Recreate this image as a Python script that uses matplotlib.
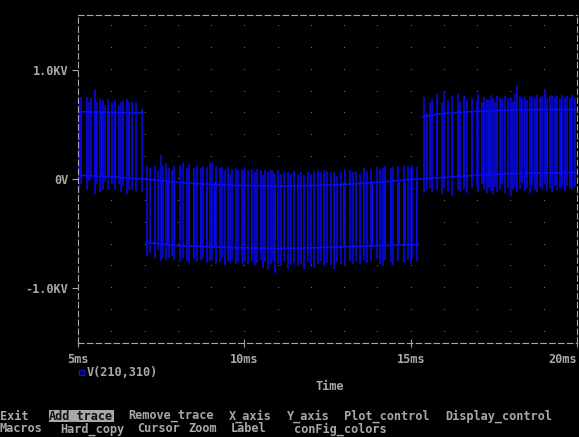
import numpy as np
import matplotlib
matplotlib.use("Agg")
import matplotlib.pyplot as plt
from matplotlib.patches import Rectangle

# V(210,310) in kV, time in ms

# thin switching edges: time, lowest and highest point of each edge
pos1_t = [5.04, 5.10, 5.26, 5.32, 5.39, 5.51, 5.58, 5.66, 5.75, 5.81, 5.90,
          6.01, 6.11, 6.24, 6.29, 6.36, 6.47, 6.53, 6.63, 6.74, 6.91]
pos1_lo = [-0.12, -0.05, -0.10, -0.02, 0.0, -0.14, -0.05, -0.12, -0.10, -0.03, -0.10,
           -0.05, -0.10, -0.05, -0.12, -0.06, -0.14, -0.10, -0.10, -0.11, -0.12]
pos1_hi = [0.72, 0.75, 0.75, 0.70, 0.74, 0.82, 0.70, 0.73, 0.72, 0.68, 0.73,
           0.70, 0.72, 0.68, 0.70, 0.72, 0.73, 0.70, 0.70, 0.70, 0.64]

neg_t = [7.06, 7.16, 7.31, 7.40, 7.49, 7.55, 7.64, 7.74, 7.84, 7.90,
         8.07, 8.15, 8.27, 8.34, 8.49, 8.57, 8.69, 8.77, 8.89, 8.97,
         9.02, 9.15, 9.27, 9.34, 9.42, 9.52, 9.57, 9.62, 9.74, 9.82,
         9.92, 9.97, 10.02, 10.12, 10.22, 10.32, 10.37, 10.50, 10.57, 10.62,
         10.72, 10.80, 10.87, 10.92, 11.02, 11.10, 11.20, 11.30, 11.40, 11.50,
         11.60, 11.70, 11.80, 11.90, 12.00, 12.10, 12.20, 12.30, 12.40, 12.47,
         12.60, 12.70, 12.80, 12.90, 13.02, 13.17, 13.27, 13.37, 13.47, 13.60,
         13.70, 13.82, 13.98, 14.08, 14.18, 14.23, 14.40, 14.48, 14.63, 14.81,
         14.93, 15.01, 15.05, 15.20]
neg_lo = [-0.70, -0.68, -0.72, -0.65, -0.75, -0.72, -0.74, -0.72, -0.70, -0.74,
          -0.76, -0.72, -0.75, -0.77, -0.73, -0.76, -0.74, -0.72, -0.77, -0.75,
          -0.74, -0.78, -0.76, -0.72, -0.79, -0.75, -0.77, -0.73, -0.78, -0.76,
          -0.74, -0.80, -0.76, -0.78, -0.75, -0.79, -0.77, -0.74, -0.81, -0.76,
          -0.83, -0.78, -0.75, -0.86, -0.78, -0.80, -0.76, -0.82, -0.79, -0.77,
          -0.80, -0.78, -0.82, -0.76, -0.79, -0.81, -0.78, -0.75, -0.80, -0.77,
          -0.79, -0.82, -0.76, -0.78, -0.80, -0.75, -0.78, -0.76, -0.79, -0.74,
          -0.77, -0.75, -0.73, -0.78, -0.80, -0.74, -0.76, -0.79, -0.75, -0.77,
          -0.74, -0.78, -0.72, -0.75]
neg_hi = [0.12, 0.10, 0.12, 0.08, 0.22, 0.12, 0.15, 0.10, 0.08, 0.12,
          0.13, 0.16, 0.10, 0.14, 0.10, 0.12, 0.10, 0.12, 0.11, 0.15,
          0.16, 0.12, 0.10, 0.11, 0.08, 0.11, 0.05, 0.09, 0.10, 0.08,
          0.09, 0.07, 0.10, 0.08, 0.09, 0.06, 0.09, 0.08, 0.04, 0.08,
          0.06, 0.08, 0.07, 0.05, 0.08, 0.05, 0.06, 0.06, 0.05, 0.07,
          0.05, 0.06, 0.04, 0.06, 0.05, 0.07, 0.08, 0.06, 0.08, 0.07,
          0.06, 0.06, 0.03, 0.06, 0.09, 0.08, 0.06, 0.07, 0.05, 0.10,
          0.07, 0.09, 0.11, 0.09, 0.10, 0.12, 0.10, 0.11, 0.12, 0.13,
          0.12, 0.10, 0.13, 0.11]

pos2_t = [15.41, 15.48, 15.58, 15.63, 15.78, 15.93, 16.01, 16.11, 16.23, 16.41,
          16.48, 16.59, 16.68, 16.83, 16.98, 17.03, 17.15, 17.21, 17.28, 17.35,
          17.41, 17.48, 17.55, 17.61, 17.68, 17.75, 17.83, 17.93, 18.01, 18.08,
          18.13, 18.21, 18.28, 18.35, 18.43, 18.51, 18.58, 18.65, 18.73, 18.81,
          18.88, 18.95, 19.03, 19.11, 19.18, 19.25, 19.33, 19.41, 19.48, 19.55,
          19.63, 19.71, 19.78, 19.85, 19.93]
pos2_lo = [-0.13, -0.10, -0.08, -0.12, -0.10, -0.14, -0.08, -0.11, -0.16, -0.10,
           -0.12, -0.09, -0.13, -0.08, -0.06, -0.12, -0.05, -0.10, -0.13, -0.08,
           -0.11, -0.14, -0.07, -0.12, -0.10, -0.05, -0.13, -0.08, -0.16, -0.10,
           -0.07, -0.12, -0.09, -0.04, -0.11, -0.08, -0.13, -0.06, -0.10, -0.12,
           -0.07, -0.09, -0.05, -0.11, -0.08, -0.12, -0.06, -0.10, -0.09, -0.07,
           -0.11, -0.06, -0.08, -0.10, -0.07]
pos2_hi = [0.75, 0.60, 0.70, 0.73, 0.78, 0.70, 0.80, 0.72, 0.76, 0.78,
           0.70, 0.76, 0.72, 0.74, 0.72, 0.78, 0.70, 0.75, 0.73, 0.72,
           0.77, 0.74, 0.70, 0.76, 0.75, 0.73, 0.76, 0.74, 0.75, 0.71,
           0.78, 0.86, 0.76, 0.74, 0.75, 0.72, 0.76, 0.75, 0.74, 0.77,
           0.75, 0.76, 0.82, 0.74, 0.76, 0.77, 0.75, 0.76, 0.73, 0.77,
           0.75, 0.76, 0.74, 0.77, 0.75]

# bright pulse blocks (start, end, bottom, top)
block_start = [5.03, 5.48, 5.68, 5.88, 6.08, 6.49,
               7.48, 7.68, 7.86, 8.30, 8.47, 8.66, 8.86, 9.10, 10.91, 12.97,
               13.80, 13.96, 14.20, 14.37, 14.60, 14.78, 15.17,
               15.75, 16.20, 16.38, 16.56, 16.80, 17.19, 17.33, 17.59, 18.46,
               18.78, 19.08, 19.33, 19.50, 19.78]
block_end = [5.11, 5.56, 5.76, 5.95, 6.15, 6.56,
             7.55, 7.75, 7.93, 8.36, 8.52, 8.72, 8.92, 9.16, 10.95, 13.05,
             13.86, 14.02, 14.26, 14.43, 14.67, 14.85, 15.23,
             15.82, 16.27, 16.44, 16.62, 16.86, 17.24, 17.39, 17.64, 18.51,
             18.83, 19.13, 19.38, 19.55, 19.83]
block_lo = [0.02] * 6 + [-0.61] * 17 + [0.01] * 14
block_hi = [0.61] * 6 + [-0.03] * 17 + [0.61] * 14

# zero-level line and pulse plateaus
base_t = [5, 6, 7, 8, 9, 10, 11, 12, 13, 14, 15, 16, 17, 18, 19, 20]
base_v = [0.035, 0.02, 0.0, -0.03, -0.05, -0.06, -0.065, -0.06, -0.05, -0.03,
          -0.005, 0.015, 0.035, 0.05, 0.055, 0.06]
lvl1_t = [5.0, 6.0, 6.95]
lvl1_v = [0.615, 0.61, 0.605]
lvl2_t = [7.05, 8, 9, 10, 11, 12, 13, 14, 15.25]
lvl2_v = [-0.58, -0.61, -0.62, -0.63, -0.635, -0.63, -0.62, -0.61, -0.60]
lvl3_t = [15.35, 16, 17, 18, 19, 20]
lvl3_v = [0.57, 0.60, 0.62, 0.63, 0.635, 0.635]

GRAY = "#a8a8a8"
BLUE = "#0a0af5"
W, H = 579, 437
mono = "DejaVu Sans Mono"

fig = plt.figure(figsize=(W / 100, H / 100), dpi=100, facecolor="black")
ax = fig.add_axes([78 / W, 1 - 343 / H, (577 - 78) / W, (343 - 15) / H])
ax.set_facecolor("black")
ax.set_xlim(5, 20)
ax.set_ylim(-1.5, 1.5)

# dotted grid
gx, gy = np.meshgrid(np.arange(6, 20), np.arange(-1.4, 1.41, 0.2))
ax.plot(gx.ravel(), gy.ravel(), ",", color="#6e6e6e")

for t, lo, hi in [(pos1_t, pos1_lo, pos1_hi), (neg_t, neg_lo, neg_hi),
                  (pos2_t, pos2_lo, pos2_hi)]:
    ax.vlines(t, lo, hi, colors="#0808e0", linewidth=1.2)
ax.bar(block_start, np.subtract(block_hi, block_lo),
       width=np.subtract(block_end, block_start), bottom=block_lo,
       align="edge", color=BLUE, linewidth=0)
ax.plot(base_t, base_v, color=BLUE, linewidth=1.2)
for t, v in [(lvl1_t, lvl1_v), (lvl2_t, lvl2_v), (lvl3_t, lvl3_v)]:
    ax.plot(t, v, color=BLUE, linewidth=1.2)

for s in ax.spines.values():
    s.set_color(GRAY)
    s.set_linewidth(0.8)
    s.set_linestyle((0, (5, 3)))

ax.set_xticks([5, 10, 15, 20])
ax.set_xticklabels(["5ms", "10ms", "15ms", "20ms"])
ax.set_yticks([-1.0, 0, 1.0])
ax.set_yticklabels(["-1.0KV", "0V", "1.0KV"])
ax.tick_params(axis="x", colors=GRAY, direction="inout", length=6, width=0.8,
               pad=4, labelsize=8.6)
ax.tick_params(axis="y", colors=GRAY, direction="out", length=4, width=0.8,
               pad=3, labelsize=8.6)
for lab in ax.get_xticklabels() + ax.get_yticklabels():
    lab.set_family(mono)
    lab.set_weight("bold")
ax.get_xticklabels()[-1].set_horizontalalignment("right")

def ftext(x, y, s, **kw):
    fig.text(x / W, 1 - y / H, s, family=mono, weight="bold", fontsize=8.6,
             color=GRAY, va="center", **kw)


# legend
fig.patches.append(Rectangle((79 / W, 1 - 375 / H), 5 / W, 5 / H,
                             transform=fig.transFigure, fill=False,
                             edgecolor="#1010e0", linewidth=1.0))
ftext(87, 372, "V(210,310)")
ftext(330, 387, "Time", ha="center")

# menu lines
fig.patches.append(Rectangle((49 / W, 1 - 422 / H), 65 / W, 12 / H,
                             transform=fig.transFigure, color=GRAY, linewidth=0))
ftext(0, 416, "Exit")
fig.text(49 / W, 1 - 416 / H, "Add_trace", family=mono, weight="bold",
         fontsize=8.6, color="#101010", va="center")
ftext(128, 416, "Remove_trace")
ftext(229, 416, "X_axis")
ftext(287, 416, "Y_axis")
ftext(344, 416, "Plot_control")
ftext(445, 416, "Display_control")
ftext(0, 429, "Macros")
ftext(60, 429, "Hard_copy")
ftext(137, 429, "Cursor")
ftext(188, 429, "Zoom")
ftext(231, 429, "Label")
ftext(294, 429, "conFig_colors")

fig.savefig("out.png", dpi=100, facecolor="black")
plt.close(fig)
